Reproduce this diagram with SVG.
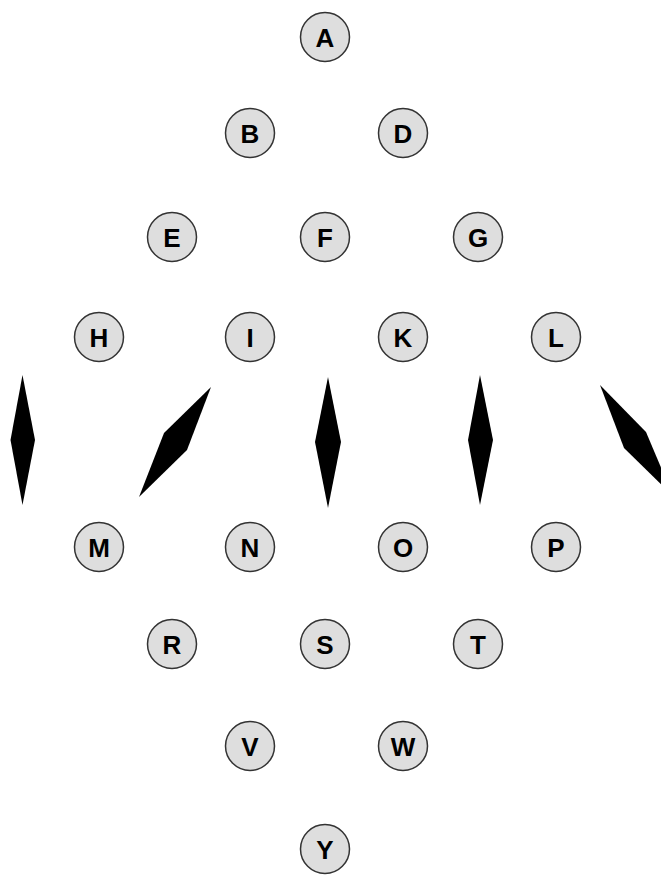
<svg xmlns="http://www.w3.org/2000/svg" width="661" height="878" viewBox="0 0 661 878">
  <style>
    .node circle { fill: #dedede; stroke: #333333; stroke-width: 1.5; }
    .node text { font-family: "Liberation Sans", Arial, sans-serif; font-weight: bold; font-size: 26px; fill: #000000; text-anchor: middle; dominant-baseline: central; }
    .spindle { fill: #000000; stroke: none; }
  </style>
  <rect width="661" height="878" fill="#ffffff"/>

  <!-- spindle shapes between the upper and lower rows -->
  <g id="spindles">
    <polygon class="spindle" points="22.5,375 35,440 22.5,505 10.5,440"/>
    <polygon class="spindle" points="211,387 187,450 139,497 164,433"/>
    <polygon class="spindle" points="328,377 341,442 328,508 315,442"/>
    <polygon class="spindle" points="480,375 493,440 480,505 468,440"/>
    <polygon class="spindle" points="600,385 646,432 673,496 624,448"/>
  </g>

  <g id="connectors"></g>

  <g id="A" class="node"><circle cx="325" cy="37" r="24.5"/><text x="325" y="38">A</text></g>
  <g id="B" class="node"><circle cx="250" cy="133" r="24.5"/><text x="250" y="134">B</text></g>
  <g id="D" class="node"><circle cx="403" cy="133" r="24.5"/><text x="403" y="134">D</text></g>
  <g id="E" class="node"><circle cx="172" cy="237" r="24.5"/><text x="172" y="238">E</text></g>
  <g id="F" class="node"><circle cx="325" cy="237" r="24.5"/><text x="325" y="238">F</text></g>
  <g id="G" class="node"><circle cx="478" cy="237" r="24.5"/><text x="478" y="238">G</text></g>
  <g id="H" class="node"><circle cx="99" cy="337" r="24.5"/><text x="99" y="338">H</text></g>
  <g id="I" class="node"><circle cx="250" cy="337" r="24.5"/><text x="250" y="338">I</text></g>
  <g id="K" class="node"><circle cx="403" cy="337" r="24.5"/><text x="403" y="338">K</text></g>
  <g id="L" class="node"><circle cx="556" cy="337" r="24.5"/><text x="556" y="338">L</text></g>
  <g id="M" class="node"><circle cx="99" cy="547" r="24.5"/><text x="99" y="548">M</text></g>
  <g id="N" class="node"><circle cx="250" cy="547" r="24.5"/><text x="250" y="548">N</text></g>
  <g id="O" class="node"><circle cx="403" cy="547" r="24.5"/><text x="403" y="548">O</text></g>
  <g id="P" class="node"><circle cx="556" cy="547" r="24.5"/><text x="556" y="548">P</text></g>
  <g id="R" class="node"><circle cx="172" cy="644" r="24.5"/><text x="172" y="645">R</text></g>
  <g id="S" class="node"><circle cx="325" cy="644" r="24.5"/><text x="325" y="645">S</text></g>
  <g id="T" class="node"><circle cx="478" cy="644" r="24.5"/><text x="478" y="645">T</text></g>
  <g id="V" class="node"><circle cx="250" cy="746" r="24.5"/><text x="250" y="747">V</text></g>
  <g id="W" class="node"><circle cx="403" cy="746" r="24.5"/><text x="403" y="747">W</text></g>
  <g id="Y" class="node"><circle cx="325" cy="849" r="24.5"/><text x="325" y="850">Y</text></g>
</svg>
